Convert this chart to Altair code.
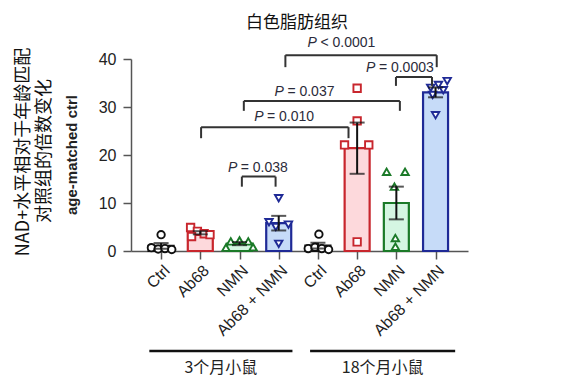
import altair as alt
import pandas as pd

# ---------------- data ----------------
categories = ["Ctrl", "Ab68", "NMN", "Ab68 + NMN", "Ctrl", "Ab68", "NMN", "Ab68 + NMN"]
treatments = ["Ctrl", "Ab68", "NMN", "Ab68 + NMN"]

values = [
    [3.4, 0.7, 0.4, 0.5, 0.3],
    [4.9, 4.1, 3.6, 3.0, 3.4],
    [2.0, 2.2, 2.0, 0.7, 0.8],
    [11.0, 6.0, 5.5, 5.0, 1.5],
    [3.5, 0.5, 0.8, 0.5, 0.3],
    [33.9, 27.1, 22.1, 22.1, 1.9],
    [16.5, 16.5, 13.4, 2.7, 0.9],
    [34.0, 34.6, 35.4, 32.5, 33.5, 28.3],
]
# horizontal scatter of the symbols inside each bar (in px)
jitter_px = [
    [0, -10, -3, 4, 11],
    [-10, -3, 4, -9, 10],
    [-9, 0, 9, -14, 14],
    [0, -10, 10, -3, 0],
    [1, -10, -3, 4, 11],
    [0, 0, -13, 12, 0],
    [-10, 9, -2, -1, -1],
    [-5, 3, 12, -3, 8, 0],
]

bracket_x1 = [3.17, 5.99, 2.11, 1.02, 2.06]
bracket_x2 = [7.03, 6.91, 6.09, 4.78, 2.92]
bracket_y = [40.8, 36.25, 31.25, 25.8, 15.5]
bracket_leg = [38.3, 34.4, 29.2, 23.5, 13.4]
bracket_op = ["<", "=", "=", "=", "="]
bracket_p = ["0.0001", "0.0003", "0.037", "0.010", "0.038"]
label_x = [4.58, 6.07, 3.64, 3.12, 2.45]
label_y = [43.3, 38.1, 33.2, 27.9, 17.2]

group_names = ["3个月小鼠", "18个月小鼠"]
group_x1 = [-0.30, 3.80]
group_x2 = [3.35, 7.50]

title_text = "白色脂肪组织"
ytitle_1 = "NAD+水平相对于年龄匹配"
ytitle_2 = "对照组的倍数变化"
ytitle_3 = "age-matched ctrl"

# ---------------- layout ----------------
W, H = 337, 192
XMIN, XMAX = -0.64, 7.70
STEP = W / (XMAX - XMIN)

stroke_colors = ["#111111", "#c8262d", "#1b7a28", "#1f2a96"]
fill_colors = ["#ffffff", "#fdd9dc", "#d5f6e2", "#c6dbf8"]
shapes = ["circle", "square", "triangle-up", "triangle-down"]

rows = []
for i, (vals, jit) in enumerate(zip(values, jitter_px)):
    for v, j in zip(vals, jit):
        rows.append({"idx": i, "treat": treatments[i % 4], "value": v,
                     "xp": i + j / STEP})
pts = pd.DataFrame(rows)

# P-value text: italic "P" + regular rest, centred together
aw = {"0": .556, "1": .556, "2": .556, "3": .556, "4": .556, "5": .556,
      "6": .556, "7": .556, "8": .556, "9": .556, ".": .278, "=": .584,
      "<": .584, " ": .278, "P": .667}
FS = 14
brows = []
for x1, x2, y, yl, op, p, lx, ly in zip(bracket_x1, bracket_x2, bracket_y,
                                        bracket_leg, bracket_op, bracket_p,
                                        label_x, label_y):
    rest = op + " " + p
    wP = (aw["P"] + aw[" "]) * FS
    wr = sum(aw[c] for c in rest) * FS
    tot = wP + wr
    xP = lx - tot / 2 / STEP
    brows.append({"x1": x1, "x2": x2, "y": y, "yl": yl, "rest": rest,
                  "xP": xP, "xR": xP + wP / STEP, "ly": ly})
br = pd.DataFrame(brows)

grp = pd.DataFrame({"name": group_names, "x1": group_x1, "x2": group_x2,
                    "xm": [(a + b) / 2 for a, b in zip(group_x1, group_x2)]})

label_expr = "[" + ",".join("'" + c + "'" for c in categories) + "][datum.value]"

xscale = alt.Scale(domain=[XMIN, XMAX], nice=False, zero=False)
yscale = alt.Scale(domain=[0, 40], nice=False)

xaxis = alt.Axis(values=list(range(8)), labelExpr=label_expr, labelAngle=-45,
                 labelFontSize=16, title=None, grid=False, labelPadding=3,
                 labelOverlap=False, labelBound=False)
yaxis = alt.Axis(values=[0, 10, 20, 30, 40], labelFontSize=16, title=None,
                 grid=False, labelPadding=7)

base = alt.Chart(pts)

bars = base.transform_aggregate(
    mean="mean(value)", groupby=["idx", "treat"]
).mark_bar(size=25, strokeWidth=2.2).encode(
    x=alt.X("idx:Q", scale=xscale, axis=xaxis),
    y=alt.Y("mean:Q", scale=yscale, axis=yaxis),
    fill=alt.Fill("treat:N", scale=alt.Scale(domain=treatments, range=fill_colors), legend=None),
    stroke=alt.Stroke("treat:N", scale=alt.Scale(domain=treatments, range=stroke_colors), legend=None),
)

points = base.mark_point(filled=True, fill="white", strokeWidth=1.9, size=55, opacity=1).encode(
    x=alt.X("xp:Q"),
    y=alt.Y("value:Q"),
    stroke=alt.Stroke("treat:N", scale=alt.Scale(domain=treatments, range=stroke_colors), legend=None),
    shape=alt.Shape("treat:N", scale=alt.Scale(domain=treatments, range=shapes), legend=None),
)

err = base.transform_aggregate(
    mean="mean(value)", sem="stderr(value)", groupby=["idx"]
).transform_calculate(
    lo="datum.mean - datum.sem", hi="datum.mean + datum.sem"
)
err_rule = err.mark_rule(color="#111", strokeWidth=2).encode(
    x="idx:Q", y="lo:Q", y2="hi:Q")
err_top = err.mark_tick(color="#111", orient="horizontal", size=15, thickness=2).encode(
    x="idx:Q", y="hi:Q")
err_bot = err.mark_tick(color="#111", orient="horizontal", size=15, thickness=2).encode(
    x="idx:Q", y="lo:Q")

bb = alt.Chart(br)
bcol = "#333333"
b_h = bb.mark_rule(color=bcol, strokeWidth=2).encode(x="x1:Q", x2="x2:Q", y="y:Q")
b_l = bb.mark_rule(color=bcol, strokeWidth=2).encode(x="x1:Q", y="y:Q", y2="yl:Q")
b_r = bb.mark_rule(color=bcol, strokeWidth=2).encode(x="x2:Q", y="y:Q", y2="yl:Q")
tcol = "#2b2b3a"
b_P = bb.mark_text(text="P", font="Liberation Sans", fontStyle="italic", fontSize=FS,
                   align="left", baseline="middle", color=tcol).encode(x="xP:Q", y="ly:Q")
b_t = bb.mark_text(font="Liberation Sans", fontSize=FS, align="left", baseline="middle",
                   color=tcol).encode(x="xR:Q", y="ly:Q", text="rest:N")

gg = alt.Chart(grp)
g_line = gg.mark_rule(color="#111", strokeWidth=2.5).encode(
    x="x1:Q", x2="x2:Q", y=alt.value(292))
g_text = gg.mark_text(font="Noto Sans CJK SC", fontSize=16, color="#222",
                      baseline="middle").encode(x="xm:Q", y=alt.value(309), text="name:N")

tdf = pd.DataFrame({"t": [title_text]})
title_mark = alt.Chart(tdf).mark_text(font="Noto Sans CJK SC", fontSize=17, color="#111",
                                      baseline="middle").encode(
    x=alt.value(166), y=alt.value(-36), text="t:N")

ydf = pd.DataFrame({"t1": [ytitle_1], "t2": [ytitle_2], "t3": [ytitle_3]})
yt1 = alt.Chart(ydf).mark_text(font="Noto Sans CJK SC", fontSize=18, angle=270,
                               color="#111", baseline="middle").encode(
    x=alt.value(-107), y=alt.value(93), text="t1:N")
yt2 = alt.Chart(ydf).mark_text(font="Noto Sans CJK SC", fontSize=18, angle=270,
                               color="#111", baseline="middle").encode(
    x=alt.value(-86), y=alt.value(92), text="t2:N")
yt3 = alt.Chart(ydf).mark_text(font="Liberation Sans", fontSize=15, fontWeight="bold",
                               angle=270, color="#222", baseline="middle").encode(
    x=alt.value(-59), y=alt.value(96), text="t3:N")

chart = alt.layer(
    bars, points, err_rule, err_top, err_bot,
    b_h, b_l, b_r, b_P, b_t, g_line, g_text, title_mark, yt1, yt2, yt3
).properties(
    width=W, height=H,
    autosize=alt.AutoSizeParams(type="none"),
    padding={"left": 123, "top": 51, "right": 88, "bottom": 128},
).configure_view(strokeWidth=0).configure_axis(
    domainColor="#555", domainWidth=1.5, tickColor="#555", tickWidth=1.5, tickSize=8,
    labelFont="Liberation Sans", labelColor="#222"
)

chart.save("out.html", embed_options={"renderer": "svg", "actions": False})
